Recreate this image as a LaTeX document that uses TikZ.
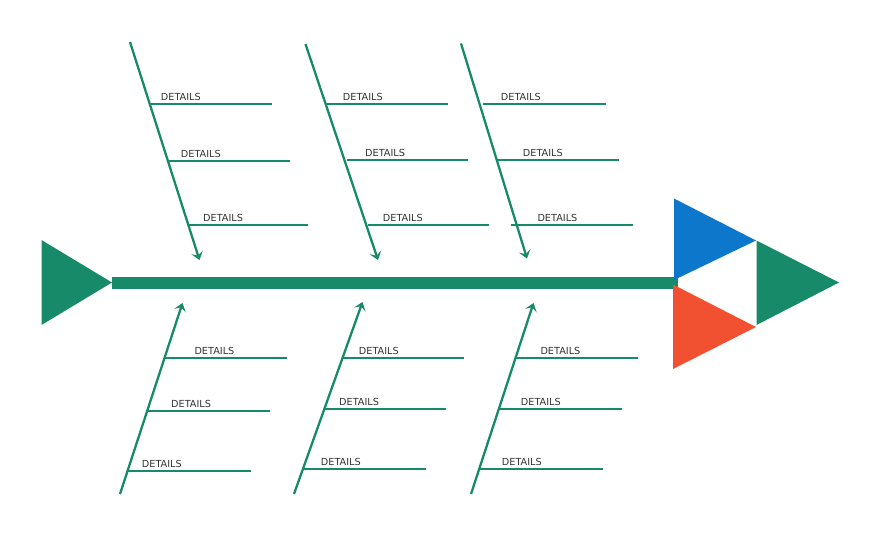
\documentclass[tikz,border=0pt]{standalone}
\usepackage{fontspec}
\setmainfont{DejaVu Sans}
\usetikzlibrary{arrows.meta}
\definecolor{fgreen}{HTML}{178B69}
\definecolor{fblue}{HTML}{0D77CC}
\definecolor{fred}{HTML}{F25131}
\definecolor{ftext}{HTML}{333333}
\tikzset{
  spine/.style={draw=fgreen, line width=12pt},
  bone/.style={draw=fgreen, line width=2.3pt, -{Stealth[length=8pt,width=12pt,inset=3.5pt]}},
  detail/.style={draw=fgreen, line width=2.3pt},
  lbl/.style={anchor=base west, inner sep=0pt, text=ftext, font=\fontsize{9.7}{11}\selectfont},
}
\begin{document}
\begin{tikzpicture}[x=1pt,y=-1pt]
\useasboundingbox (0,0) rectangle (880,542);
% spine
\coordinate (tailtip) at (112,282.5);
\coordinate (headbase) at (678,282.5);
\fill[fgreen] (41.5,240) -- (tailtip) -- (41.5,325) -- cycle;
\draw[spine] (tailtip) -- (headbase);
% head triangles
\fill[fblue] (674,198.5) -- (756,240.5) -- (674,280) -- cycle;
\fill[fred] (673,284.5) -- (756,327) -- (673,369) -- cycle;
\fill[fgreen] (756.5,240.5) -- (839,282.5) -- (756.5,325) -- cycle;
% bones
\foreach \n/\xa/\ya/\xb/\yb in {1/130/42/199.5/260, 2/305.5/44/378/260, 3/461/43.5/527/258.5,
  4/120/494/182.5/303, 5/294/494/362.5/302, 6/471/494/533.5/303}{
  \coordinate (bs\n) at (\xa,\ya);
  \coordinate (be\n) at (\xb,\yb);
  \draw[bone] (bs\n) -- (be\n);
}
% detail lines and labels
\foreach \n/\y/\a/\b/\t in {
  11/103.7/150/272.3/160.7, 12/161/168.3/290/180.7, 13/224.7/189/308.3/203,
  21/103.7/326.7/448.3/342.7, 22/160.3/346.7/468.3/365, 23/224.7/368.3/489/382.7,
  31/104/483.3/605.7/500.7, 32/160/496.7/619/522.7, 33/224.7/511/633.3/537.3,
  41/358/165/287.3/194.3, 42/411/148.3/270/171, 43/470.7/128.3/250.7/141.7,
  51/357.7/342.3/464.3/358.7, 52/409/324.3/445.7/339, 53/469.3/303.3/425.7/320.7,
  61/357.7/516/638.3/540.3, 62/409/499.3/621.7/520.7, 63/469.3/480/603.3/501.7}{
  \coordinate (da\n) at (\a,\y);
  \coordinate (db\n) at (\b,\y);
  \draw[detail] (da\n) -- (db\n);
  \node[lbl] (t\n) at (\t,\y-3.7) {DETAILS};
}
\end{tikzpicture}
\end{document}
